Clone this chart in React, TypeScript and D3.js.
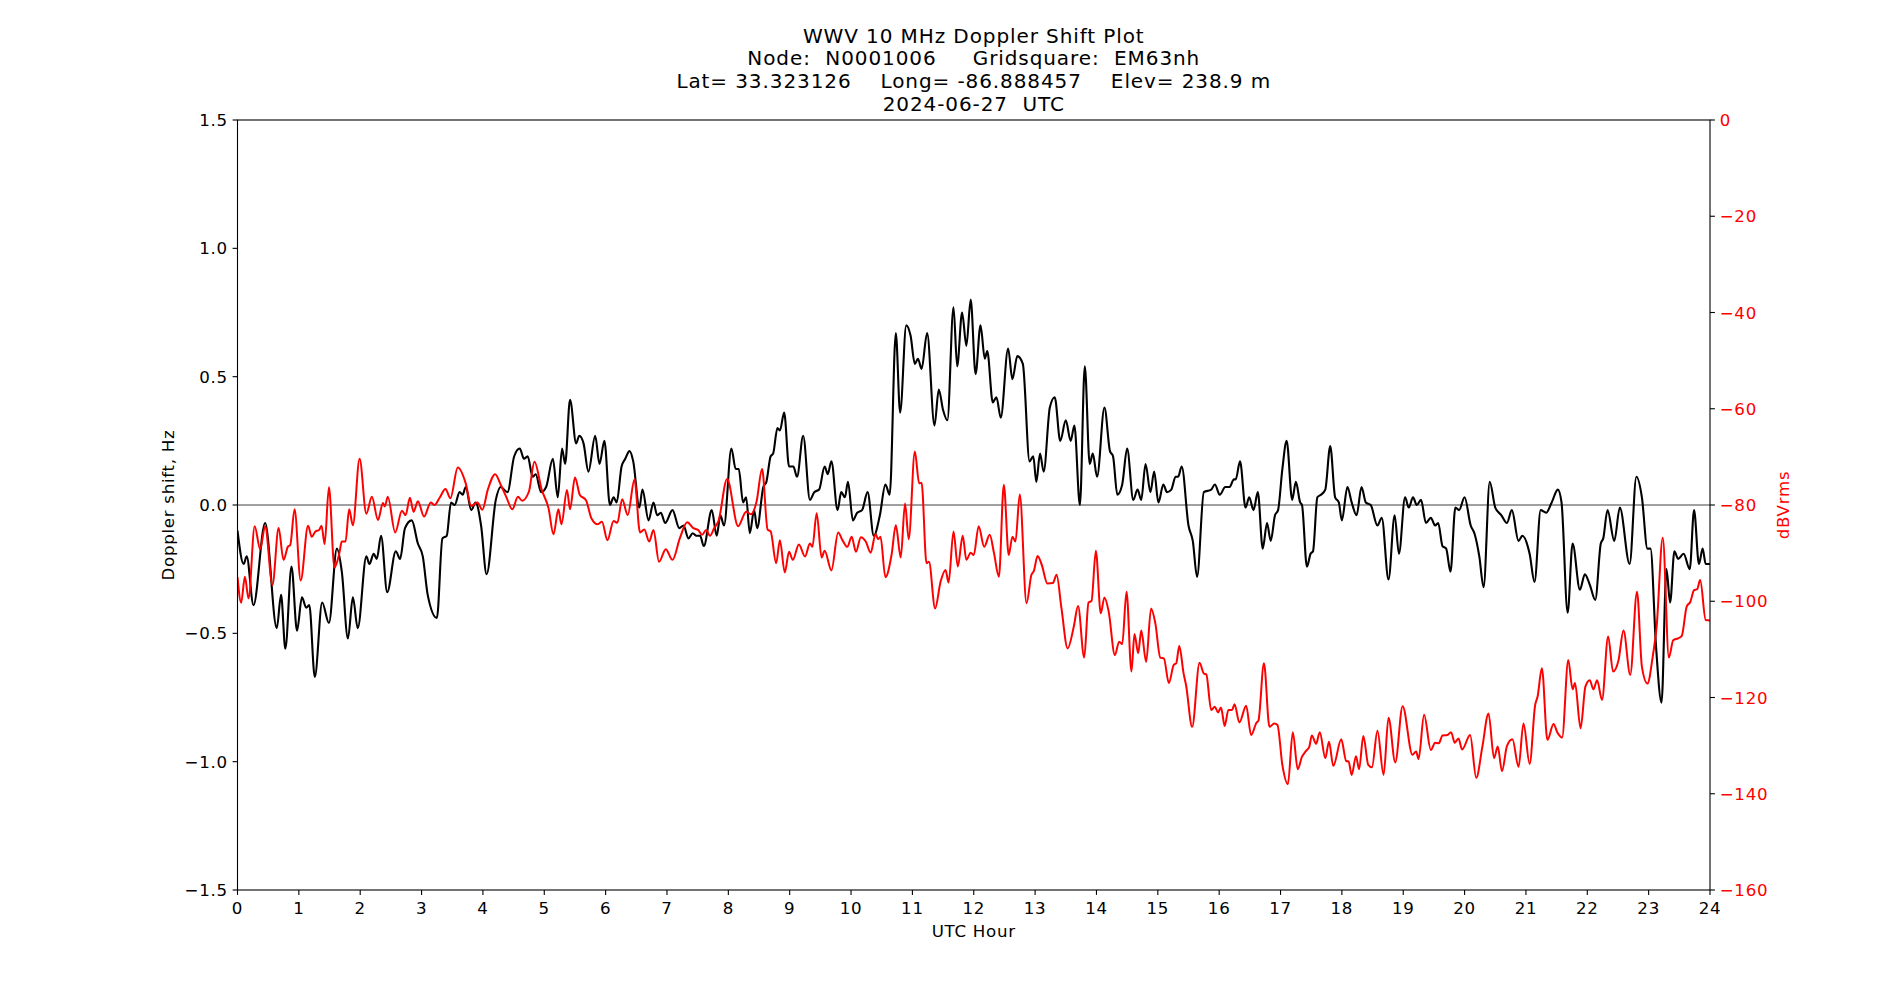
import React from 'react';
import * as d3 from 'd3';

// Doppler shift (Hz) vs UTC hour, black trace on the left axis
const dopplerShift: [number, number][] = [
  [0.0, -0.1], [0.1, -0.23], [0.15, -0.2], [0.26, -0.39], [0.45, -0.07], [0.64, -0.48], [0.71, -0.35],
  [0.78, -0.56], [0.88, -0.24], [0.97, -0.49], [1.05, -0.36], [1.12, -0.4], [1.17, -0.39], [1.26, -0.67],
  [1.38, -0.38], [1.49, -0.46], [1.62, -0.17], [1.7, -0.26], [1.8, -0.52], [1.88, -0.36], [1.96, -0.48],
  [2.1, -0.2], [2.15, -0.23], [2.22, -0.19], [2.27, -0.21], [2.34, -0.12], [2.44, -0.34], [2.58, -0.18],
  [2.65, -0.21], [2.73, -0.09], [2.84, -0.06], [2.94, -0.15], [3.02, -0.2], [3.1, -0.35], [3.25, -0.44],
  [3.34, -0.13], [3.41, -0.12], [3.48, 0.01], [3.54, 0.0], [3.62, 0.05], [3.67, 0.04], [3.72, 0.07],
  [3.81, -0.02], [3.88, 0.01], [3.97, -0.08], [4.06, -0.27], [4.21, 0.02], [4.29, 0.07], [4.4, 0.05],
  [4.51, 0.19], [4.6, 0.22], [4.67, 0.18], [4.73, 0.19], [4.81, 0.11], [4.86, 0.12], [4.95, 0.05],
  [5.03, 0.07], [5.14, 0.18], [5.22, 0.03], [5.29, 0.22], [5.34, 0.16], [5.42, 0.41], [5.52, 0.24],
  [5.57, 0.27], [5.64, 0.24], [5.72, 0.13], [5.83, 0.27], [5.9, 0.16], [5.98, 0.25], [6.07, 0.0],
  [6.13, 0.03], [6.18, 0.01], [6.26, 0.15], [6.32, 0.18], [6.39, 0.21], [6.45, 0.17], [6.55, -0.01],
  [6.6, 0.06], [6.7, -0.06], [6.78, 0.01], [6.84, -0.04], [6.9, -0.03], [6.97, -0.07], [7.09, -0.02],
  [7.2, -0.09], [7.27, -0.08], [7.35, -0.13], [7.42, -0.11], [7.48, -0.12], [7.54, -0.12], [7.6, -0.16],
  [7.73, -0.02], [7.81, -0.12], [7.87, -0.04], [7.93, -0.08], [8.05, 0.22], [8.12, 0.14], [8.17, 0.14],
  [8.24, 0.01], [8.29, 0.03], [8.35, -0.11], [8.42, -0.02], [8.47, -0.09], [8.57, 0.07], [8.62, 0.09],
  [8.69, 0.19], [8.73, 0.2], [8.8, 0.3], [8.84, 0.29], [8.91, 0.36], [8.99, 0.15], [9.06, 0.15],
  [9.12, 0.11], [9.22, 0.27], [9.33, 0.02], [9.4, 0.05], [9.48, 0.06], [9.57, 0.15], [9.62, 0.12],
  [9.68, 0.17], [9.78, -0.02], [9.84, 0.05], [9.9, 0.03], [9.95, 0.09], [10.03, -0.06], [10.1, -0.03],
  [10.18, -0.02], [10.27, 0.05], [10.37, -0.12], [10.47, -0.04], [10.56, 0.08], [10.63, 0.04],
  [10.73, 0.67], [10.8, 0.36], [10.9, 0.7], [10.97, 0.66], [11.04, 0.55], [11.09, 0.57], [11.15, 0.53],
  [11.24, 0.67], [11.36, 0.31], [11.43, 0.45], [11.5, 0.37], [11.57, 0.33], [11.67, 0.77], [11.73, 0.54],
  [11.81, 0.75], [11.88, 0.62], [11.95, 0.8], [12.03, 0.51], [12.11, 0.7], [12.18, 0.57], [12.22, 0.6],
  [12.31, 0.4], [12.37, 0.42], [12.44, 0.34], [12.56, 0.61], [12.63, 0.49], [12.71, 0.58], [12.8, 0.55],
  [12.91, 0.17], [12.97, 0.19], [13.02, 0.09], [13.08, 0.2], [13.14, 0.13], [13.24, 0.38], [13.32, 0.42],
  [13.41, 0.25], [13.5, 0.33], [13.58, 0.25], [13.64, 0.31], [13.73, 0.0], [13.81, 0.54], [13.89, 0.16],
  [13.94, 0.2], [14.01, 0.11], [14.13, 0.38], [14.22, 0.21], [14.27, 0.19], [14.34, 0.04], [14.42, 0.08],
  [14.5, 0.22], [14.6, 0.02], [14.67, 0.06], [14.73, 0.02], [14.8, 0.16], [14.88, 0.05], [14.94, 0.13],
  [15.01, 0.01], [15.09, 0.08], [15.15, 0.05], [15.22, 0.06], [15.29, 0.11], [15.33, 0.11], [15.39, 0.15],
  [15.5, -0.08], [15.57, -0.14], [15.64, -0.28], [15.75, 0.05], [15.87, 0.06], [15.93, 0.08], [16.01, 0.04],
  [16.1, 0.07], [16.17, 0.07], [16.24, 0.1], [16.27, 0.1], [16.34, 0.17], [16.43, -0.01], [16.49, 0.03],
  [16.56, -0.02], [16.63, 0.05], [16.71, -0.17], [16.78, -0.07], [16.84, -0.14], [16.91, -0.04],
  [16.96, -0.02], [17.03, 0.14], [17.1, 0.25], [17.19, 0.02], [17.25, 0.09], [17.32, 0.01], [17.35, 0.0],
  [17.43, -0.24], [17.49, -0.19], [17.53, -0.18], [17.6, 0.03], [17.66, 0.04], [17.73, 0.06], [17.81, 0.23],
  [17.89, 0.03], [17.95, 0.01], [18.0, -0.06], [18.09, 0.07], [18.16, 0.01], [18.24, -0.04], [18.32, 0.07],
  [18.39, 0.01], [18.47, 0.0], [18.58, -0.08], [18.65, -0.05], [18.76, -0.29], [18.86, -0.04], [18.93, -0.19],
  [19.03, 0.03], [19.09, -0.01], [19.16, 0.03], [19.22, 0.0], [19.29, 0.02], [19.37, -0.07], [19.45, -0.05],
  [19.52, -0.08], [19.57, -0.07], [19.64, -0.16], [19.7, -0.17], [19.77, -0.26], [19.85, -0.01],
  [19.91, -0.02], [20.0, 0.03], [20.1, -0.08], [20.16, -0.11], [20.24, -0.2], [20.31, -0.32], [20.41, 0.09],
  [20.5, -0.01], [20.6, -0.04], [20.69, -0.07], [20.77, -0.02], [20.88, -0.14], [20.94, -0.12],
  [21.06, -0.19], [21.14, -0.3], [21.24, -0.02], [21.33, -0.03], [21.42, 0.01], [21.52, 0.06], [21.58, 0.01],
  [21.68, -0.42], [21.76, -0.15], [21.88, -0.33], [21.96, -0.27], [22.04, -0.31], [22.13, -0.37],
  [22.22, -0.15], [22.26, -0.13], [22.33, -0.02], [22.44, -0.14], [22.53, -0.01], [22.69, -0.23],
  [22.8, 0.11], [22.89, 0.03], [22.98, -0.17], [23.03, -0.17], [23.12, -0.55], [23.21, -0.77],
  [23.29, -0.25], [23.35, -0.38], [23.42, -0.18], [23.48, -0.21], [23.57, -0.19], [23.67, -0.25],
  [23.74, -0.02], [23.82, -0.23], [23.88, -0.17], [23.93, -0.23], [24.0, -0.23],
];

// signal level (dBVrms) vs UTC hour, red trace on the right axis
const signalLevel: [number, number][] = [
  [0.0, -95], [0.06, -100.3], [0.12, -94.9], [0.18, -99.4], [0.28, -84.4], [0.37, -89.2], [0.45, -84.4],
  [0.57, -96.6], [0.67, -84.8], [0.75, -91.4], [0.82, -88.7], [0.86, -88.3], [0.93, -80.9], [1.03, -95.7],
  [1.15, -84.3], [1.21, -86.6], [1.27, -85.5], [1.33, -85.2], [1.37, -84.3], [1.42, -88.1], [1.49, -76.3],
  [1.58, -93.0], [1.66, -90.0], [1.7, -87.6], [1.76, -87.6], [1.82, -80.9], [1.88, -84.2], [1.99, -70.4],
  [2.1, -81.8], [2.19, -78.3], [2.29, -83.1], [2.37, -79.6], [2.4, -80.3], [2.45, -78.3], [2.57, -85.7],
  [2.68, -81.2], [2.74, -82.1], [2.81, -78.5], [2.87, -81.4], [2.94, -79.2], [3.04, -82.4], [3.15, -79.5],
  [3.21, -80.0], [3.29, -78.6], [3.39, -76.7], [3.47, -78.6], [3.59, -72.2], [3.72, -75.5], [3.81, -80.2],
  [3.91, -79.5], [3.99, -81.0], [4.08, -76.8], [4.2, -73.6], [4.29, -75.8], [4.38, -78.3], [4.48, -80.9],
  [4.57, -78.3], [4.64, -79.1], [4.75, -77.2], [4.84, -71.0], [4.96, -76.9], [5.07, -80.7], [5.15, -86.1],
  [5.23, -80.9], [5.28, -84.0], [5.37, -76.9], [5.42, -80.9], [5.5, -74.3], [5.58, -77.9], [5.68, -79.0],
  [5.77, -82.8], [5.87, -84.0], [5.94, -83.5], [6.03, -87.3], [6.13, -83.3], [6.19, -83.7], [6.27, -78.8],
  [6.36, -82.1], [6.47, -74.7], [6.56, -85.7], [6.63, -85.1], [6.71, -87.6], [6.78, -85.2], [6.87, -91.8],
  [6.98, -89.2], [7.09, -91.4], [7.21, -86.9], [7.33, -83.6], [7.43, -84.8], [7.51, -85.2], [7.57, -86.2],
  [7.64, -85.2], [7.7, -86.4], [7.77, -84.8], [7.84, -83.3], [7.98, -74.6], [8.16, -84.4], [8.29, -81.4],
  [8.37, -81.9], [8.46, -79.3], [8.55, -72.5], [8.64, -85.1], [8.69, -85.5], [8.78, -92.1], [8.84, -87.3],
  [8.92, -94.0], [8.99, -89.7], [9.05, -91.4], [9.15, -88.2], [9.25, -90.7], [9.33, -88.0], [9.37, -88.7],
  [9.44, -81.7], [9.52, -90.9], [9.57, -89.5], [9.68, -93.6], [9.79, -85.7], [9.86, -87.3], [9.94, -88.7],
  [10.01, -86.6], [10.08, -89.7], [10.16, -86.7], [10.24, -87.6], [10.32, -89.9], [10.4, -86.0],
  [10.44, -87.1], [10.48, -86.6], [10.56, -95.0], [10.66, -90.4], [10.73, -84.2], [10.81, -90.9],
  [10.88, -79.7], [10.94, -87.1], [11.04, -68.9], [11.11, -75.5], [11.15, -75.4], [11.23, -92.1],
  [11.27, -91.8], [11.37, -101.5], [11.46, -95.9], [11.54, -93.5], [11.59, -96.1], [11.67, -85.5],
  [11.74, -92.8], [11.82, -86.4], [11.88, -91.4], [11.95, -89.9], [12.0, -90.4], [12.08, -84.4],
  [12.17, -88.7], [12.26, -86.2], [12.33, -90.0], [12.41, -94.9], [12.49, -75.8], [12.57, -90.4],
  [12.63, -86.6], [12.68, -87.6], [12.75, -77.8], [12.86, -100.4], [12.94, -94.5], [12.98, -93.7],
  [13.04, -90.6], [13.11, -92.5], [13.2, -96.3], [13.29, -96.2], [13.35, -94.5], [13.43, -101.5],
  [13.53, -109.8], [13.63, -105.3], [13.7, -101.0], [13.8, -111.7], [13.87, -100.3], [13.92, -99.9],
  [13.99, -89.5], [14.07, -102.5], [14.13, -99.2], [14.2, -102.2], [14.3, -111.2], [14.37, -108.4],
  [14.42, -108.9], [14.49, -98.0], [14.57, -114.6], [14.62, -106.8], [14.68, -110.8], [14.73, -106.1],
  [14.81, -112.6], [14.89, -101.5], [14.96, -104.6], [15.04, -111.7], [15.1, -111.9], [15.18, -117.0],
  [15.26, -113.2], [15.3, -112.9], [15.35, -109.3], [15.42, -115.0], [15.46, -117.4], [15.56, -126.1],
  [15.68, -112.8], [15.75, -115.0], [15.79, -115.2], [15.87, -122.6], [15.93, -121.9], [15.98, -123.1],
  [16.03, -122.1], [16.09, -125.9], [16.15, -122.6], [16.21, -122.6], [16.25, -121.4], [16.33, -125.2],
  [16.44, -121.7], [16.52, -127.8], [16.61, -125.2], [16.64, -124.8], [16.73, -112.9], [16.82, -126.1],
  [16.9, -125.4], [16.95, -125.7], [17.03, -134.0], [17.12, -138.0], [17.2, -127.2], [17.28, -134.9],
  [17.35, -132.3], [17.41, -131.2], [17.47, -130.2], [17.51, -127.9], [17.58, -129.6], [17.64, -127.2],
  [17.73, -132.6], [17.79, -129.2], [17.86, -134.2], [17.99, -128.7], [18.07, -133.2], [18.11, -133.3],
  [18.16, -136.1], [18.23, -132.2], [18.28, -134.9], [18.35, -128.0], [18.43, -134.0], [18.49, -134.5],
  [18.58, -126.9], [18.68, -136.1], [18.76, -124.2], [18.87, -133.5], [18.99, -121.8], [19.15, -131.9],
  [19.21, -131.2], [19.25, -132.8], [19.34, -123.6], [19.45, -130.9], [19.52, -129.4], [19.58, -129.5],
  [19.64, -127.9], [19.72, -127.8], [19.78, -127.2], [19.84, -129.4], [19.9, -128.5], [19.96, -130.8],
  [20.09, -127.8], [20.19, -136.7], [20.29, -130.2], [20.39, -123.3], [20.48, -132.6], [20.54, -130.2],
  [20.61, -135.3], [20.69, -130.1], [20.78, -128.7], [20.88, -134.4], [20.96, -125.4], [21.06, -133.8],
  [21.15, -121.6], [21.19, -119.8], [21.26, -113.9], [21.35, -128.8], [21.45, -125.5], [21.51, -127.2],
  [21.59, -128.3], [21.69, -112.2], [21.76, -118.3], [21.8, -117.0], [21.89, -126.4], [21.97, -117.7],
  [22.04, -116.4], [22.1, -118.3], [22.16, -116.4], [22.24, -120.5], [22.34, -107.3], [22.42, -114.6],
  [22.51, -112.2], [22.59, -106.1], [22.7, -115.3], [22.81, -98.0], [22.89, -113.6], [22.98, -117.1],
  [23.07, -111.2], [23.13, -105.3], [23.23, -86.8], [23.33, -111.7], [23.4, -108.1], [23.48, -107.7],
  [23.54, -107.2], [23.62, -101.1], [23.68, -100.1], [23.74, -97.7], [23.79, -97.5], [23.84, -95.6],
  [23.93, -103.9], [24.0, -104.0],
];

const hourTicks = d3.range(0, 25, 1);
const dopplerTicks = [-1.5, -1.0, -0.5, 0.0, 0.5, 1.0, 1.5];
const dbTicks = [0, -20, -40, -60, -80, -100, -120, -140, -160];

const titleLines = [
  'WWV 10 MHz Doppler Shift Plot',
  'Node:  N0001006     Gridsquare:  EM63nh',
  'Lat= 33.323126    Long= -86.888457    Elev= 238.9 m',
  '2024-06-27  UTC',
];

const W = 1900;
const H = 1000;
const margin = { top: 120, right: 190, bottom: 110, left: 237.5 };
const FONT = 'DejaVu Sans, Verdana, sans-serif';
const LABEL = 16.67;
const SPACING = 0.7;
const minus = (s: string) => s.replace('-', '\u2212');

export default function App() {
  const x = d3.scaleLinear().domain([0, 24]).range([margin.left, W - margin.right]);
  const yHz = d3.scaleLinear().domain([-1.5, 1.5]).range([H - margin.bottom, margin.top]);
  const yDb = d3.scaleLinear().domain([-160, 0]).range([H - margin.bottom, margin.top]);

  const hzLine = d3.line<[number, number]>()
    .x(d => x(d[0]))
    .y(d => yHz(d[1]))
    .curve(d3.curveMonotoneX);
  const dbLine = d3.line<[number, number]>()
    .x(d => x(d[0]))
    .y(d => yDb(d[1]))
    .curve(d3.curveMonotoneX);

  const x0 = x(0);
  const x1 = x(24);
  const yTop = margin.top;
  const yBot = H - margin.bottom;
  const tick = 4.9;

  return (
    <svg width={W} height={H} style={{ position: 'absolute', left: 0, top: 0, background: '#fff' }}
      fontFamily={FONT}>
      <rect width={W} height={H} fill="#fff" />

      {/* title */}
      {titleLines.map((t, i) => (
        <text key={t} x={(x0 + x1) / 2} y={42.7 + i * 22.7} textAnchor="middle" fontSize={20}
          letterSpacing={0.9} xmlSpace="preserve" style={{ whiteSpace: 'pre' }}>
          {t}
        </text>
      ))}

      <defs>
        <clipPath id="plotArea">
          <rect x={x0} y={yTop} width={x1 - x0} height={yBot - yTop} />
        </clipPath>
      </defs>

      {/* zero line */}
      <line x1={x0} x2={x1} y1={yHz(0)} y2={yHz(0)} stroke="#808080" strokeWidth={1.3} />

      <g clipPath="url(#plotArea)">
        <path d={hzLine(dopplerShift) ?? ''} fill="none" stroke="#000" strokeWidth={2.1} strokeLinejoin="round" />
        <path d={dbLine(signalLevel) ?? ''} fill="none" stroke="red" strokeWidth={2} strokeLinejoin="round" />
      </g>

      {/* frame */}
      <rect x={x0} y={yTop} width={x1 - x0} height={yBot - yTop} fill="none" stroke="#000" strokeWidth={1.1} />

      {/* x axis */}
      {hourTicks.map(h => (
        <g key={'x' + h}>
          <line x1={x(h)} x2={x(h)} y1={yBot} y2={yBot + tick} stroke="#000" strokeWidth={1.1} />
          <text x={x(h)} y={913.5} textAnchor="middle" fontSize={LABEL} letterSpacing={SPACING}>{h}</text>
        </g>
      ))}
      <text x={(x0 + x1) / 2} y={937} textAnchor="middle" fontSize={LABEL} letterSpacing={SPACING}>UTC Hour</text>

      {/* left axis */}
      {dopplerTicks.map(v => (
        <g key={'l' + v}>
          <line x1={x0 - tick} x2={x0} y1={yHz(v)} y2={yHz(v)} stroke="#000" strokeWidth={1.1} />
          <text x={x0 - 9.7} y={yHz(v)} dy="0.36em" textAnchor="end" fontSize={LABEL} letterSpacing={SPACING}>
            {minus(v.toFixed(1))}
          </text>
        </g>
      ))}
      <text transform={`translate(174,${yHz(0)}) rotate(-90)`} textAnchor="middle" fontSize={LABEL}
        letterSpacing={SPACING}>
        Doppler shift, Hz
      </text>

      {/* right axis */}
      {dbTicks.map(v => (
        <g key={'r' + v}>
          <line x1={x1} x2={x1 + tick} y1={yDb(v)} y2={yDb(v)} stroke="#000" strokeWidth={1.1} />
          <text x={x1 + 9.7} y={yDb(v)} dy="0.36em" textAnchor="start" fontSize={LABEL} fill="red"
            letterSpacing={SPACING}>
            {minus(String(v))}
          </text>
        </g>
      ))}
      <text transform={`translate(1789,${yDb(-80)}) rotate(-90)`} textAnchor="middle" fontSize={LABEL} fill="red"
        letterSpacing={SPACING}>
        dBVrms
      </text>
    </svg>
  );
}
